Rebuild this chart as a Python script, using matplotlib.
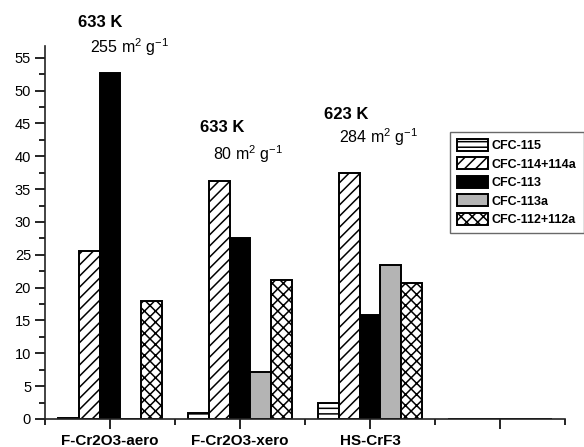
import matplotlib
matplotlib.use("Agg")
import matplotlib.pyplot as plt
import numpy as np

plt.rcParams['font.family'] = ['Liberation Sans', 'DejaVu Sans']
plt.rcParams['mathtext.fontset'] = 'custom'
plt.rcParams['mathtext.rm'] = 'Liberation Sans'
plt.rcParams['mathtext.it'] = 'Liberation Sans'
plt.rcParams['hatch.linewidth'] = 1.1

categories = ["F-Cr2O3-aero", "F-Cr2O3-xero", "HS-CrF3", ""]
series = ["CFC-115", "CFC-114+114a", "CFC-113", "CFC-113a", "CFC-112+112a"]
cfc115 = [0.2, 0.9, 2.4, 0]
cfc114 = [25.6, 36.3, 37.4, 0]
cfc113 = [52.7, 27.5, 15.8, 0]
cfc113a = [0.0, 7.1, 23.5, 0]
cfc112 = [18.0, 21.2, 20.7, 0]
values = [cfc115, cfc114, cfc113, cfc113a, cfc112]

temps = ["633 K", "633 K", "623 K"]
areas = ["255", "80", "284"]

facecolors = ["white", "white", "black", "#b4b4b4", "white"]
hatches = ["---", "///", None, None, "xxx"]

fig = plt.figure(figsize=(5.84, 4.47), dpi=100)
ax = fig.add_axes([45/584, 1-419/447, 520/584, 373/447])

x = np.arange(1, len(categories) + 1)
w = 0.16
for i, (name, vals) in enumerate(zip(series, values)):
    offs = (i - 2) * w
    ax.bar(x + offs, vals, width=w, color=facecolors[i], edgecolor="black",
           hatch=hatches[i], linewidth=1.4, label=name)

ax.set_xlim(0.5, 4.5)
ax.set_ylim(0, 56.8)
ax.set_xticks(x)
ax.set_xticklabels(categories, fontsize=11, fontweight="bold")
ax.set_xticks(np.arange(0.5, 4.6, 1.0), minor=True)
ax.set_yticks(np.arange(0, 56, 5))
ax.set_yticks(np.arange(2.5, 56, 5), minor=True)
ax.tick_params(axis='y', labelsize=10.5, length=7, width=1.2, direction='out', pad=3)
ax.tick_params(axis='y', which='minor', length=4, width=1.2)
ax.tick_params(axis='x', length=7, width=1.2, direction='out', pad=4)
ax.tick_params(axis='x', which='minor', length=4, width=1.2)
for s in ["top", "right"]:
    ax.spines[s].set_visible(False)
for s in ["left", "bottom"]:
    ax.spines[s].set_linewidth(1.2)
    ax.spines[s].set_color("#222222")

# annotations (temperature and surface area)
tpos = [(0.754, 59.7), (1.692, 43.7), (2.646, 45.7)]
apos = [(0.846, 55.8), (1.792, 39.5), (2.762, 42.0)]
for t, a, tp, ap in zip(temps, areas, tpos, apos):
    ax.text(tp[0], tp[1], t, fontsize=12, fontweight="bold", ha="left", va="baseline", clip_on=False)
    ax.text(ap[0], ap[1], a + r" m$^{2}$ g$^{-1}$", fontsize=11.5, ha="left", va="baseline", clip_on=False)

leg = fig.legend(loc="upper left", bbox_to_anchor=(450/584, 1-132/447),
                 prop={"weight": "bold", "size": 9}, frameon=True, fancybox=False,
                 borderaxespad=0, borderpad=0.55, handlelength=2.5, handleheight=1.1,
                 handletextpad=0.3, labelspacing=0.42)
leg.get_frame().set_edgecolor("#444444")
leg.get_frame().set_linewidth(1.0)

fig.savefig("out.png", dpi=100)
